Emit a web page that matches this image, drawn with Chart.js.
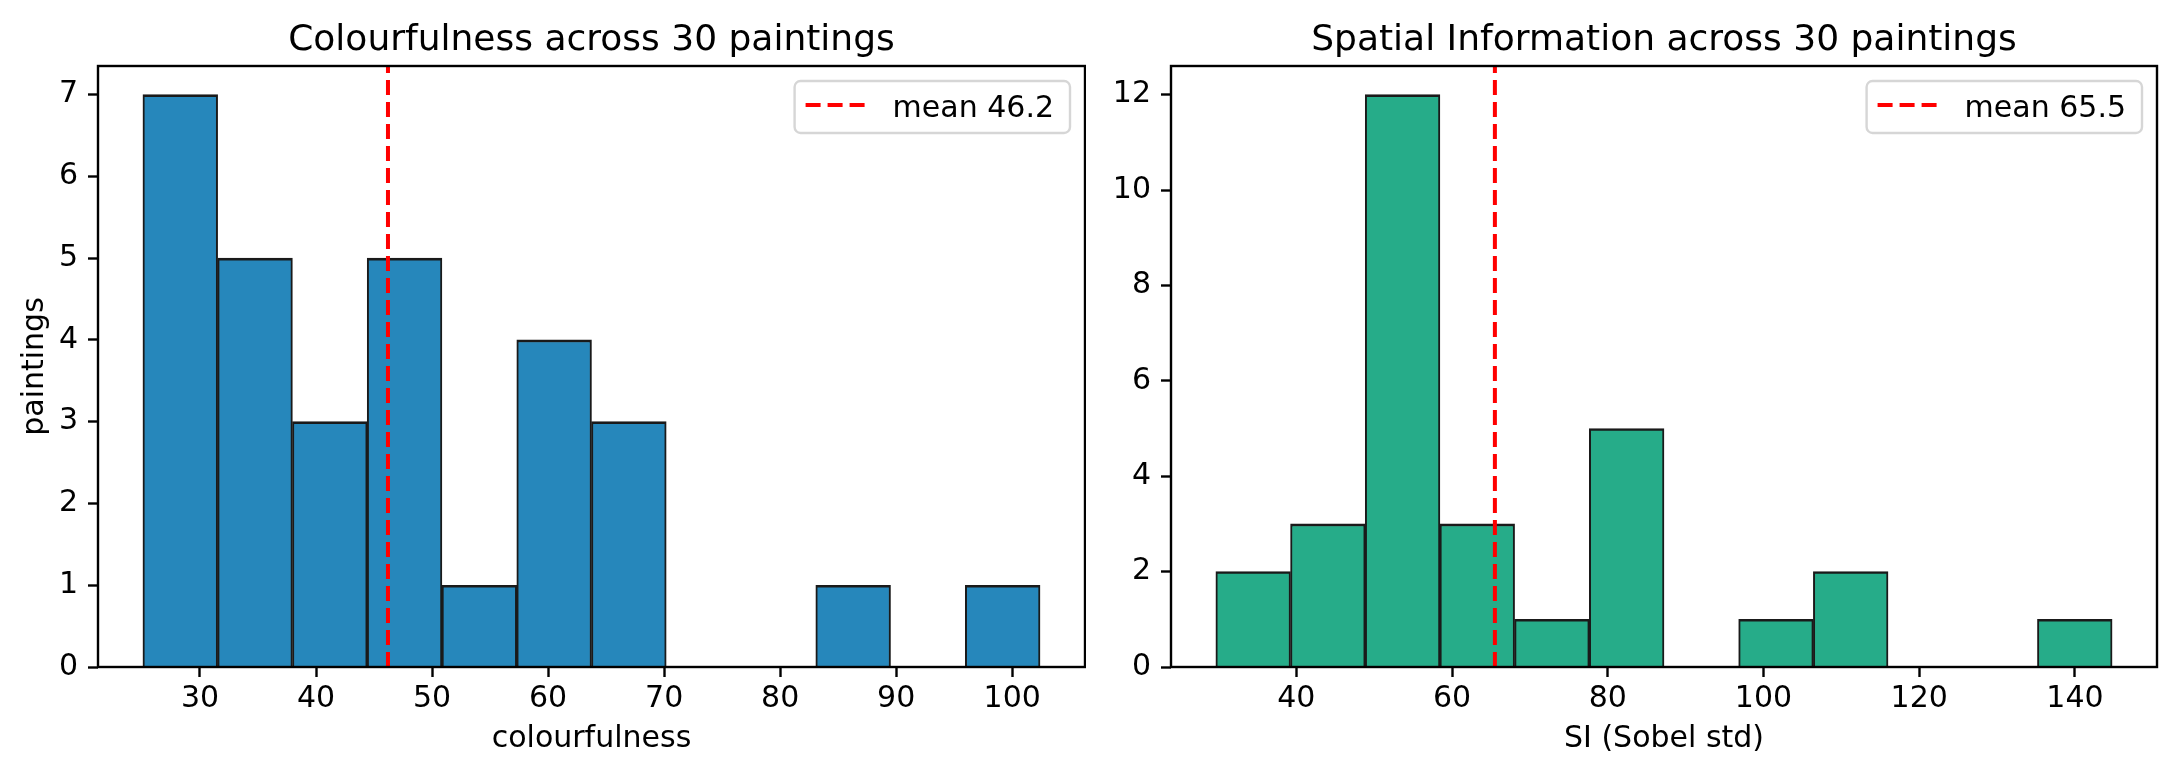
<!DOCTYPE html>
<html>
<head>
<meta charset="utf-8">
<title>Colourfulness and Spatial Information</title>
<script src="https://cdn.jsdelivr.net/npm/chart.js@4.4.0/dist/chart.umd.min.js"></script>
<style>
    body { margin: 0; background: #fff; }
    .figure { position: relative; width: 2172px; height: 773px; background: #fff; }
    .figure canvas { position: absolute; top: 0; }
</style>
</head>
<body>
<div class="figure">
    <canvas id="colourChart" width="1086" height="773" style="left: 0px;"></canvas>
    <canvas id="siChart" width="1086" height="773" style="left: 1086px;"></canvas>
</div>
<script>
// Colourfulness histogram (12 bins)
const colourEdges = [25.08, 31.52, 37.97, 44.41, 50.85, 57.30, 63.74, 70.18, 76.62, 83.07, 89.51, 95.95, 102.40];
const colourCounts = [7, 5, 3, 5, 1, 4, 3, 0, 0, 1, 0, 1];
const colourMean = 46.2;
const colourXTicks = [30, 40, 50, 60, 70, 80, 90, 100];
const colourYTicks = [0, 1, 2, 3, 4, 5, 6, 7];

// Spatial information histogram (12 bins)
const siEdges = [29.66, 39.25, 48.85, 58.44, 68.03, 77.63, 87.22, 96.81, 106.40, 116.00, 125.59, 135.18, 144.78];
const siCounts = [2, 3, 12, 3, 1, 5, 0, 1, 2, 0, 0, 1];
const siMean = 65.5;
const siXTicks = [40, 60, 80, 100, 120, 140];
const siYTicks = [0, 2, 4, 6, 8, 10, 12];

const FONT = "'DejaVu Sans', 'Liberation Sans', sans-serif";

// draws axes box, legend box and title like matplotlib does
const axesDecor = {
    id: 'axesDecor',
    afterDatasetsDraw(chart, args, opts) {
        const ctx = chart.ctx;
        const a = chart.chartArea;
        ctx.save();

        // spines
        ctx.strokeStyle = '#000';
        ctx.lineWidth = 2.4;
        ctx.strokeRect(a.left, a.top, a.right - a.left, a.bottom - a.top);

        // legend
        const meanSet = chart.data.datasets.find(d => d.type === 'line');
        ctx.font = '30px ' + FONT;
        const tw = ctx.measureText(meanSet.label).width;
        const w = 12 + 60 + 24 + tw + 18;
        const h = 52;
        const x0 = a.right - 15 - w;
        const y0 = a.top + 15;
        ctx.beginPath();
        ctx.roundRect(x0, y0, w, h, 6);
        ctx.fillStyle = 'rgba(255,255,255,0.8)';
        ctx.fill();
        ctx.strokeStyle = '#d6d6d6';
        ctx.lineWidth = 2.4;
        ctx.stroke();

        ctx.beginPath();
        ctx.setLineDash(meanSet.borderDash);
        ctx.strokeStyle = meanSet.borderColor;
        ctx.lineWidth = meanSet.borderWidth;
        ctx.moveTo(x0 + 11, y0 + 24);
        ctx.lineTo(x0 + 71, y0 + 24);
        ctx.stroke();
        ctx.setLineDash([]);

        ctx.fillStyle = '#000';
        ctx.textBaseline = 'alphabetic';
        ctx.textAlign = 'left';
        ctx.fillText(meanSet.label, x0 + 98, y0 + 36);

        // title
        ctx.font = '36px ' + FONT;
        ctx.textAlign = 'center';
        ctx.fillText(opts.text, (a.left + a.right) / 2, 50);

        ctx.restore();
    }
};

function buildBins(edges, counts) {
    return counts.map((c, i) => ({ x: (edges[i] + edges[i + 1]) / 2, y: c }));
}

function crearHistograma(canvasId, cfg) {
    const ctx = document.getElementById(canvasId).getContext('2d');

    return new Chart(ctx, {
        type: 'bar',
        plugins: [axesDecor],
        data: {
            datasets: [{
                type: 'line',
                label: 'mean ' + cfg.mean.toFixed(1),
                data: [{ x: cfg.mean, y: 0 }, { x: cfg.mean, y: cfg.yMax }],
                borderColor: '#ff0000',
                borderWidth: 4,
                borderDash: [15, 7],
                pointRadius: 0,
                fill: false,
                order: 0
            }, {
                type: 'bar',
                label: cfg.xTitle,
                data: buildBins(cfg.edges, cfg.counts),
                backgroundColor: cfg.color,
                borderColor: '#1a1a1a',
                borderWidth: { top: 2.6, left: 2, right: 2, bottom: 0 },
                borderSkipped: false,
                barPercentage: 1,
                categoryPercentage: 1,
                order: 1
            }]
        },
        options: {
            responsive: false,
            animation: false,
            layout: {
                padding: { top: 66, left: 0, right: cfg.padRight, bottom: 0 }
            },
            plugins: {
                legend: { display: false },
                tooltip: { enabled: false },
                axesDecor: { text: cfg.title }
            },
            scales: {
                x: {
                    type: 'linear',
                    min: cfg.xMin,
                    max: cfg.xMax,
                    offset: false,
                    afterBuildTicks: (scale) => { scale.ticks = cfg.xTicks.map(v => ({ value: v })); },
                    afterFit: (scale) => { scale.height = 106; },
                    grid: {
                        offset: false,
                        drawOnChartArea: false,
                        drawTicks: true,
                        tickLength: 10,
                        tickWidth: 2.4,
                        tickColor: '#000'
                    },
                    border: { display: false },
                    ticks: {
                        color: '#000',
                        padding: 4,
                        maxRotation: 0,
                        font: { family: FONT, size: 30 }
                    },
                    title: {
                        display: true,
                        text: cfg.xTitle,
                        color: '#000',
                        padding: { top: 0, bottom: 16 },
                        font: { family: FONT, size: 30 }
                    }
                },
                y: {
                    type: 'linear',
                    min: 0,
                    max: cfg.yMax,
                    afterBuildTicks: (scale) => { scale.ticks = cfg.yTicks.map(v => ({ value: v })); },
                    afterFit: (scale) => { scale.width = cfg.yWidth; },
                    grid: {
                        drawOnChartArea: false,
                        drawTicks: true,
                        tickLength: 10,
                        tickWidth: 2.4,
                        tickColor: '#000'
                    },
                    border: { display: false },
                    ticks: {
                        color: '#000',
                        padding: 10,
                        font: { family: FONT, size: 30 }
                    },
                    title: {
                        display: cfg.yTitle !== '',
                        text: cfg.yTitle,
                        color: '#000',
                        padding: { top: 17, bottom: 0 },
                        font: { family: FONT, size: 30 }
                    }
                }
            }
        }
    });
}

crearHistograma('colourChart', {
    title: 'Colourfulness across 30 paintings',
    xTitle: 'colourfulness',
    yTitle: 'paintings',
    edges: colourEdges,
    counts: colourCounts,
    mean: colourMean,
    xTicks: colourXTicks,
    yTicks: colourYTicks,
    xMin: 21.21,
    xMax: 106.27,
    yMax: 7.35,
    yWidth: 98,
    padRight: 1,
    color: '#2687bb'
});

crearHistograma('siChart', {
    title: 'Spatial Information across 30 paintings',
    xTitle: 'SI (Sobel std)',
    yTitle: '',
    edges: siEdges,
    counts: siCounts,
    mean: siMean,
    xTicks: siXTicks,
    yTicks: siYTicks,
    xMin: 23.90,
    xMax: 150.54,
    yMax: 12.6,
    yWidth: 85,
    padRight: 15,
    color: '#26ac89'
});
</script>
</body>
</html>
